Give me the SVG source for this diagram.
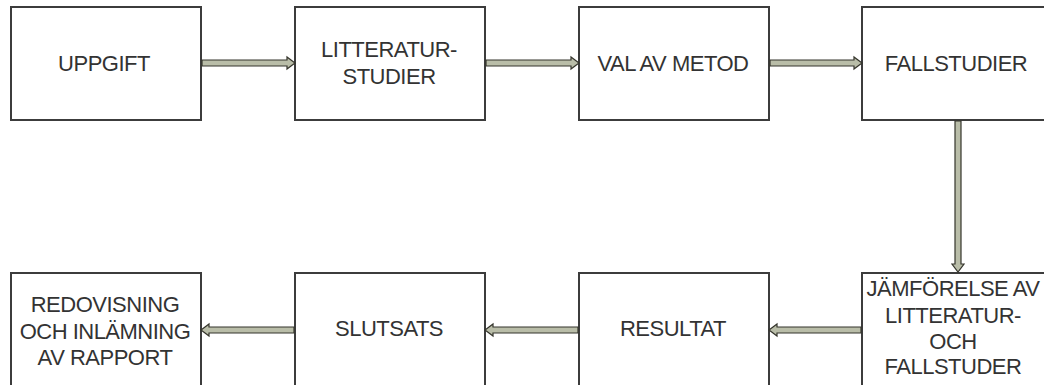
<svg xmlns="http://www.w3.org/2000/svg" width="1044" height="385" viewBox="0 0 1044 385">
  <style>
    .box { fill: #ffffff; stroke: #3c3c3c; stroke-width: 2; }
    .lbl { font-family: "Liberation Sans", Arial, sans-serif; font-size: 22px; letter-spacing: -0.5px; fill: #333333; text-anchor: middle; }
    .arr { fill: #b9bda8; stroke: #35352c; stroke-width: 1.2; stroke-linejoin: miter; }
  </style>
  <rect width="1044" height="385" fill="#ffffff"/>

  <!-- top row -->
  <g id="uppgift">
    <rect class="box" x="11" y="7" width="190" height="113"/>
    <text class="lbl" x="104" y="71">UPPGIFT</text>
  </g>
  <g id="litteraturstudier">
    <rect class="box" x="295" y="7" width="190" height="113"/>
    <text class="lbl" x="389" y="57">LITTERATUR-</text>
    <text class="lbl" x="389" y="84">STUDIER</text>
  </g>
  <g id="val-av-metod">
    <rect class="box" x="579" y="7" width="190" height="113"/>
    <text class="lbl" x="673" y="71">VAL AV METOD</text>
  </g>
  <g id="fallstudier">
    <rect class="box" x="862" y="7" width="192" height="113"/>
    <text class="lbl" x="956" y="71">FALLSTUDIER</text>
  </g>

  <!-- bottom row -->
  <g id="jamforelse">
    <rect class="box" x="862" y="273" width="192" height="113"/>
    <text class="lbl" x="953" y="296">JÄMFÖRELSE AV</text>
    <text class="lbl" x="953" y="323">LITTERATUR-</text>
    <text class="lbl" x="953" y="349">OCH</text>
    <text class="lbl" x="953" y="374">FALLSTUDER</text>
  </g>
  <g id="resultat">
    <rect class="box" x="579" y="273" width="190" height="113"/>
    <text class="lbl" x="673" y="336">RESULTAT</text>
  </g>
  <g id="slutsats">
    <rect class="box" x="295" y="273" width="190" height="113"/>
    <text class="lbl" x="389" y="336">SLUTSATS</text>
  </g>
  <g id="redovisning">
    <rect class="box" x="11" y="273" width="190" height="113"/>
    <text class="lbl" x="105" y="312">REDOVISNING</text>
    <text class="lbl" x="105" y="339">OCH INLÄMNING</text>
    <text class="lbl" x="105" y="365">AV RAPPORT</text>
  </g>

  <!-- connectors: block arrows -->
  <g id="connectors">
    <polygon class="arr" points="202,60 287,60 287,57 295,63 287,69 287,66 202,66"/>
    <polygon class="arr" points="486,60 571,60 571,57 579,63 571,69 571,66 486,66"/>
    <polygon class="arr" points="770,60 854,60 854,57 862,63 854,69 854,66 770,66"/>
    <polygon class="arr" points="955,121 955,264 952,264 958,272 964,264 961,264 961,121"/>
    <polygon class="arr" points="861,327 777,327 777,324 769,330 777,336 777,333 861,333"/>
    <polygon class="arr" points="578,327 493,327 493,324 485,330 493,336 493,333 578,333"/>
    <polygon class="arr" points="294,327 209,327 209,324 201,330 209,336 209,333 294,333"/>
  </g>
</svg>
